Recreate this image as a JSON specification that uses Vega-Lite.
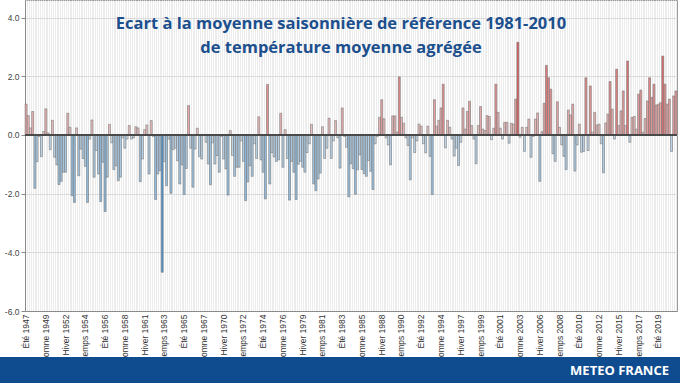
{
  "$schema": "https://vega.github.io/schema/vega-lite/v6.json",
  "width": 652,
  "height": 311,
  "autosize": {"type": "none"},
  "padding": {"left": 25, "top": 0, "right": 3, "bottom": 72},
  "background": "#ffffff",
  "title": {
    "text": ["Ecart à la moyenne saisonnière de référence 1981-2010", "de température moyenne agrégée"],
    "font": "Open Sans",
    "fontSize": 16.5,
    "fontWeight": 700,
    "color": "#1c4f8d",
    "anchor": "middle",
    "orient": "top",
    "offset": 0,
    "baseline": "alphabetic",
    "lineHeight": 24,
    "dy": 69,
    "dx": -10
  },
  "config": {
    "view": {"fill": "#ececec", "stroke": "#9a9a9a", "strokeWidth": 1}
  },
  "datasets": {
    "footer": [{"marque": "METEO FRANCE"}]
  },
  "data": {"values": [
    {"saison": "Été 1947", "ecart": 1.05}, {"saison": "Automne 1947", "ecart": 0.66}, {"saison": "Hiver 1948", "ecart": 0.24}, {"saison": "Printemps 1948", "ecart": 0.8},
    {"saison": "Été 1948", "ecart": -1.82}, {"saison": "Automne 1948", "ecart": -0.91}, {"saison": "Hiver 1949", "ecart": -0.05}, {"saison": "Printemps 1949", "ecart": -0.74},
    {"saison": "Été 1949", "ecart": 0.12}, {"saison": "Automne 1949", "ecart": 0.89}, {"saison": "Hiver 1950", "ecart": 0.07}, {"saison": "Printemps 1950", "ecart": -0.5},
    {"saison": "Été 1950", "ecart": 0.5}, {"saison": "Automne 1950", "ecart": -0.76}, {"saison": "Hiver 1951", "ecart": -1.02}, {"saison": "Printemps 1951", "ecart": -1.69},
    {"saison": "Été 1951", "ecart": -1.58}, {"saison": "Automne 1951", "ecart": -1.27}, {"saison": "Hiver 1952", "ecart": -1.27}, {"saison": "Printemps 1952", "ecart": 0.74},
    {"saison": "Été 1952", "ecart": 0.26}, {"saison": "Automne 1952", "ecart": -2.07}, {"saison": "Hiver 1953", "ecart": -2.3}, {"saison": "Printemps 1953", "ecart": 0.24},
    {"saison": "Été 1953", "ecart": -1.39}, {"saison": "Automne 1953", "ecart": -0.48}, {"saison": "Hiver 1954", "ecart": -0.8}, {"saison": "Printemps 1954", "ecart": -1.07},
    {"saison": "Été 1954", "ecart": -2.3}, {"saison": "Automne 1954", "ecart": -0.14}, {"saison": "Hiver 1955", "ecart": 0.51}, {"saison": "Printemps 1955", "ecart": -1.44},
    {"saison": "Été 1955", "ecart": -0.53}, {"saison": "Automne 1955", "ecart": -1.33}, {"saison": "Hiver 1956", "ecart": -2.27}, {"saison": "Printemps 1956", "ecart": -0.93},
    {"saison": "Été 1956", "ecart": -2.61}, {"saison": "Automne 1956", "ecart": -1.44}, {"saison": "Hiver 1957", "ecart": 0.36}, {"saison": "Printemps 1957", "ecart": -0.27},
    {"saison": "Été 1957", "ecart": -1.18}, {"saison": "Automne 1957", "ecart": -1.05}, {"saison": "Hiver 1958", "ecart": -1.56}, {"saison": "Printemps 1958", "ecart": -1.44},
    {"saison": "Été 1958", "ecart": -0.1}, {"saison": "Automne 1958", "ecart": -0.45}, {"saison": "Hiver 1959", "ecart": -0.14}, {"saison": "Printemps 1959", "ecart": 0.32},
    {"saison": "Été 1959", "ecart": -0.14}, {"saison": "Automne 1959", "ecart": -0.1}, {"saison": "Hiver 1960", "ecart": 0.28}, {"saison": "Printemps 1960", "ecart": 0.24},
    {"saison": "Été 1960", "ecart": -1.59}, {"saison": "Automne 1960", "ecart": -0.82}, {"saison": "Hiver 1961", "ecart": 0.18}, {"saison": "Printemps 1961", "ecart": 0.34},
    {"saison": "Été 1961", "ecart": -1.33}, {"saison": "Automne 1961", "ecart": 0.49}, {"saison": "Hiver 1962", "ecart": -0.05}, {"saison": "Printemps 1962", "ecart": -2.2},
    {"saison": "Été 1962", "ecart": -1.33}, {"saison": "Automne 1962", "ecart": -1.22}, {"saison": "Hiver 1963", "ecart": -4.68}, {"saison": "Printemps 1963", "ecart": -0.91},
    {"saison": "Été 1963", "ecart": -1.73}, {"saison": "Automne 1963", "ecart": -0.14}, {"saison": "Hiver 1964", "ecart": -1.99}, {"saison": "Printemps 1964", "ecart": -0.5},
    {"saison": "Été 1964", "ecart": -0.45}, {"saison": "Automne 1964", "ecart": -0.88}, {"saison": "Hiver 1965", "ecart": -1.67}, {"saison": "Printemps 1965", "ecart": -1.02},
    {"saison": "Été 1965", "ecart": -2.03}, {"saison": "Automne 1965", "ecart": -1.14}, {"saison": "Hiver 1966", "ecart": 1.0}, {"saison": "Printemps 1966", "ecart": -0.45},
    {"saison": "Été 1966", "ecart": -1.78}, {"saison": "Automne 1966", "ecart": -0.48}, {"saison": "Hiver 1967", "ecart": 0.23}, {"saison": "Printemps 1967", "ecart": -0.74},
    {"saison": "Été 1967", "ecart": -0.82}, {"saison": "Automne 1967", "ecart": -0.02}, {"saison": "Hiver 1968", "ecart": -0.25}, {"saison": "Printemps 1968", "ecart": -0.99},
    {"saison": "Été 1968", "ecart": -1.7}, {"saison": "Automne 1968", "ecart": -0.27}, {"saison": "Hiver 1969", "ecart": -0.99}, {"saison": "Printemps 1969", "ecart": -0.7},
    {"saison": "Été 1969", "ecart": -1.27}, {"saison": "Automne 1969", "ecart": -0.05}, {"saison": "Hiver 1970", "ecart": -0.82}, {"saison": "Printemps 1970", "ecart": -1.16},
    {"saison": "Été 1970", "ecart": -2.05}, {"saison": "Automne 1970", "ecart": 0.15}, {"saison": "Hiver 1971", "ecart": -0.7}, {"saison": "Printemps 1971", "ecart": -1.41},
    {"saison": "Été 1971", "ecart": -1.1}, {"saison": "Automne 1971", "ecart": -1.1}, {"saison": "Hiver 1972", "ecart": -0.2}, {"saison": "Printemps 1972", "ecart": -0.9},
    {"saison": "Été 1972", "ecart": -2.24}, {"saison": "Automne 1972", "ecart": -1.6}, {"saison": "Hiver 1973", "ecart": -1.05}, {"saison": "Printemps 1973", "ecart": -1.41},
    {"saison": "Été 1973", "ecart": -0.3}, {"saison": "Automne 1973", "ecart": -0.8}, {"saison": "Hiver 1974", "ecart": 0.62}, {"saison": "Printemps 1974", "ecart": -0.85},
    {"saison": "Été 1974", "ecart": -1.27}, {"saison": "Automne 1974", "ecart": -2.18}, {"saison": "Hiver 1975", "ecart": 1.72}, {"saison": "Printemps 1975", "ecart": -1.67},
    {"saison": "Été 1975", "ecart": -0.6}, {"saison": "Automne 1975", "ecart": -0.75}, {"saison": "Hiver 1976", "ecart": -0.9}, {"saison": "Printemps 1976", "ecart": -0.85},
    {"saison": "Été 1976", "ecart": 0.74}, {"saison": "Automne 1976", "ecart": -1.1}, {"saison": "Hiver 1977", "ecart": 0.18}, {"saison": "Printemps 1977", "ecart": -0.8},
    {"saison": "Été 1977", "ecart": -2.22}, {"saison": "Automne 1977", "ecart": -0.9}, {"saison": "Hiver 1978", "ecart": -1.27}, {"saison": "Printemps 1978", "ecart": -2.2},
    {"saison": "Été 1978", "ecart": -1.0}, {"saison": "Automne 1978", "ecart": -0.9}, {"saison": "Hiver 1979", "ecart": -1.1}, {"saison": "Printemps 1979", "ecart": -1.27},
    {"saison": "Été 1979", "ecart": -0.6}, {"saison": "Automne 1979", "ecart": -0.3}, {"saison": "Hiver 1980", "ecart": 0.36}, {"saison": "Printemps 1980", "ecart": -1.67},
    {"saison": "Été 1980", "ecart": -1.9}, {"saison": "Automne 1980", "ecart": -1.5}, {"saison": "Hiver 1981", "ecart": -1.3}, {"saison": "Printemps 1981", "ecart": 0.28},
    {"saison": "Été 1981", "ecart": -0.8}, {"saison": "Automne 1981", "ecart": -0.45}, {"saison": "Hiver 1982", "ecart": 0.57}, {"saison": "Printemps 1982", "ecart": -0.8},
    {"saison": "Été 1982", "ecart": -0.2}, {"saison": "Automne 1982", "ecart": 0.49}, {"saison": "Hiver 1983", "ecart": -0.1}, {"saison": "Printemps 1983", "ecart": -1.13},
    {"saison": "Été 1983", "ecart": 0.92}, {"saison": "Automne 1983", "ecart": -0.05}, {"saison": "Hiver 1984", "ecart": -0.42}, {"saison": "Printemps 1984", "ecart": -2.11},
    {"saison": "Été 1984", "ecart": -0.98}, {"saison": "Automne 1984", "ecart": -1.15}, {"saison": "Hiver 1985", "ecart": -2.02}, {"saison": "Printemps 1985", "ecart": -1.19},
    {"saison": "Été 1985", "ecart": -0.68}, {"saison": "Automne 1985", "ecart": -1.18}, {"saison": "Hiver 1986", "ecart": -1.32}, {"saison": "Printemps 1986", "ecart": -1.41},
    {"saison": "Été 1986", "ecart": -0.87}, {"saison": "Automne 1986", "ecart": -1.24}, {"saison": "Hiver 1987", "ecart": -1.86}, {"saison": "Printemps 1987", "ecart": -0.3},
    {"saison": "Été 1987", "ecart": -0.05}, {"saison": "Automne 1987", "ecart": 0.6}, {"saison": "Hiver 1988", "ecart": 1.2}, {"saison": "Printemps 1988", "ecart": 0.55},
    {"saison": "Été 1988", "ecart": -0.1}, {"saison": "Automne 1988", "ecart": -0.34}, {"saison": "Hiver 1989", "ecart": -1.02}, {"saison": "Printemps 1989", "ecart": 0.65},
    {"saison": "Été 1989", "ecart": 0.65}, {"saison": "Automne 1989", "ecart": 0.1}, {"saison": "Hiver 1990", "ecart": 1.98}, {"saison": "Printemps 1990", "ecart": 0.6},
    {"saison": "Été 1990", "ecart": 0.4}, {"saison": "Automne 1990", "ecart": -0.1}, {"saison": "Hiver 1991", "ecart": -0.36}, {"saison": "Printemps 1991", "ecart": -1.53},
    {"saison": "Été 1991", "ecart": -0.1}, {"saison": "Automne 1991", "ecart": -0.6}, {"saison": "Hiver 1992", "ecart": -0.2}, {"saison": "Printemps 1992", "ecart": 0.37},
    {"saison": "Été 1992", "ecart": 0.3}, {"saison": "Automne 1992", "ecart": -0.3}, {"saison": "Hiver 1993", "ecart": -0.61}, {"saison": "Printemps 1993", "ecart": 0.3},
    {"saison": "Été 1993", "ecart": -0.73}, {"saison": "Automne 1993", "ecart": -2.03}, {"saison": "Hiver 1994", "ecart": 1.2}, {"saison": "Printemps 1994", "ecart": 0.3},
    {"saison": "Été 1994", "ecart": 0.5}, {"saison": "Automne 1994", "ecart": 0.92}, {"saison": "Hiver 1995", "ecart": 1.73}, {"saison": "Printemps 1995", "ecart": -0.44},
    {"saison": "Été 1995", "ecart": 0.5}, {"saison": "Automne 1995", "ecart": 0.26}, {"saison": "Hiver 1996", "ecart": -0.14}, {"saison": "Printemps 1996", "ecart": -0.72},
    {"saison": "Été 1996", "ecart": -0.45}, {"saison": "Automne 1996", "ecart": -1.04}, {"saison": "Hiver 1997", "ecart": -0.25}, {"saison": "Printemps 1997", "ecart": 0.92},
    {"saison": "Été 1997", "ecart": 0.2}, {"saison": "Automne 1997", "ecart": 0.8}, {"saison": "Hiver 1998", "ecart": 1.15}, {"saison": "Printemps 1998", "ecart": 0.32},
    {"saison": "Été 1998", "ecart": -0.14}, {"saison": "Automne 1998", "ecart": -0.98}, {"saison": "Hiver 1999", "ecart": 0.32}, {"saison": "Printemps 1999", "ecart": 0.97},
    {"saison": "Été 1999", "ecart": 0.2}, {"saison": "Automne 1999", "ecart": 0.15}, {"saison": "Hiver 2000", "ecart": 0.66}, {"saison": "Printemps 2000", "ecart": 0.63},
    {"saison": "Été 2000", "ecart": -0.16}, {"saison": "Automne 2000", "ecart": 0.23}, {"saison": "Hiver 2001", "ecart": 1.73}, {"saison": "Printemps 2001", "ecart": 0.77},
    {"saison": "Été 2001", "ecart": 0.23}, {"saison": "Automne 2001", "ecart": -0.14}, {"saison": "Hiver 2002", "ecart": 0.43}, {"saison": "Printemps 2002", "ecart": 0.43},
    {"saison": "Été 2002", "ecart": -0.28}, {"saison": "Automne 2002", "ecart": 0.4}, {"saison": "Hiver 2003", "ecart": 0.37}, {"saison": "Printemps 2003", "ecart": 1.22},
    {"saison": "Été 2003", "ecart": 3.16}, {"saison": "Automne 2003", "ecart": -0.08}, {"saison": "Hiver 2004", "ecart": 0.26}, {"saison": "Printemps 2004", "ecart": -0.56},
    {"saison": "Été 2004", "ecart": 0.26}, {"saison": "Automne 2004", "ecart": 0.54}, {"saison": "Hiver 2005", "ecart": -0.76}, {"saison": "Printemps 2005", "ecart": -0.05},
    {"saison": "Été 2005", "ecart": 0.54}, {"saison": "Automne 2005", "ecart": 0.75}, {"saison": "Hiver 2006", "ecart": -1.58}, {"saison": "Printemps 2006", "ecart": 0.11},
    {"saison": "Été 2006", "ecart": 1.08}, {"saison": "Automne 2006", "ecart": 2.37}, {"saison": "Hiver 2007", "ecart": 1.95}, {"saison": "Printemps 2007", "ecart": 1.56},
    {"saison": "Été 2007", "ecart": -0.64}, {"saison": "Automne 2007", "ecart": -0.9}, {"saison": "Hiver 2008", "ecart": 1.13}, {"saison": "Printemps 2008", "ecart": 0.26},
    {"saison": "Été 2008", "ecart": -0.34}, {"saison": "Automne 2008", "ecart": -0.73}, {"saison": "Hiver 2009", "ecart": -1.18}, {"saison": "Printemps 2009", "ecart": 0.85},
    {"saison": "Été 2009", "ecart": 0.68}, {"saison": "Automne 2009", "ecart": 1.05}, {"saison": "Hiver 2010", "ecart": -1.23}, {"saison": "Printemps 2010", "ecart": -0.34},
    {"saison": "Été 2010", "ecart": 0.37}, {"saison": "Automne 2010", "ecart": -0.59}, {"saison": "Hiver 2011", "ecart": -0.56}, {"saison": "Printemps 2011", "ecart": 1.95},
    {"saison": "Été 2011", "ecart": -0.53}, {"saison": "Automne 2011", "ecart": 1.67}, {"saison": "Hiver 2012", "ecart": 0.1}, {"saison": "Printemps 2012", "ecart": 0.77},
    {"saison": "Été 2012", "ecart": 0.34}, {"saison": "Automne 2012", "ecart": 0.37}, {"saison": "Hiver 2013", "ecart": -0.3}, {"saison": "Printemps 2013", "ecart": -1.29},
    {"saison": "Été 2013", "ecart": 0.41}, {"saison": "Automne 2013", "ecart": 0.71}, {"saison": "Hiver 2014", "ecart": 1.82}, {"saison": "Printemps 2014", "ecart": 0.88},
    {"saison": "Été 2014", "ecart": -0.14}, {"saison": "Automne 2014", "ecart": 2.24}, {"saison": "Hiver 2015", "ecart": 0.32}, {"saison": "Printemps 2015", "ecart": 0.82},
    {"saison": "Été 2015", "ecart": 1.5}, {"saison": "Automne 2015", "ecart": 0.32}, {"saison": "Hiver 2016", "ecart": 2.52}, {"saison": "Printemps 2016", "ecart": -0.25},
    {"saison": "Été 2016", "ecart": 0.6}, {"saison": "Automne 2016", "ecart": 0.63}, {"saison": "Hiver 2017", "ecart": 0.2}, {"saison": "Printemps 2017", "ecart": 1.39},
    {"saison": "Été 2017", "ecart": 1.53}, {"saison": "Automne 2017", "ecart": 0.09}, {"saison": "Hiver 2018", "ecart": 0.56}, {"saison": "Printemps 2018", "ecart": 1.16},
    {"saison": "Été 2018", "ecart": 1.95}, {"saison": "Automne 2018", "ecart": 1.28}, {"saison": "Hiver 2019", "ecart": 1.73}, {"saison": "Printemps 2019", "ecart": 1.02},
    {"saison": "Été 2019", "ecart": 1.05}, {"saison": "Automne 2019", "ecart": 1.1}, {"saison": "Hiver 2020", "ecart": 2.69}, {"saison": "Printemps 2020", "ecart": 1.73},
    {"saison": "Été 2020", "ecart": 1.05}, {"saison": "Automne 2020", "ecart": 1.22}, {"saison": "Hiver 2021", "ecart": -0.56}, {"saison": "Printemps 2021", "ecart": 1.33},
    {"saison": "Été 2021", "ecart": 1.5}
  ]},
  "layer": [
    {
      "mark": {"type": "bar", "stroke": "#737373", "strokeWidth": 0.6},
      "encoding": {
        "x": {
          "field": "saison", "type": "nominal", "sort": null,
          "scale": {"paddingInner": 0.12, "paddingOuter": 0.05},
          "axis": {
            "title": null,
            "labelExpr": "indexof(['Été 1947','Automne 1949','Hiver 1952','Printemps 1954','Été 1956','Automne 1958','Hiver 1961','Printemps 1963','Été 1965','Automne 1967','Hiver 1970','Printemps 1972','Été 1974','Automne 1976','Hiver 1979','Printemps 1981','Été 1983','Automne 1985','Hiver 1988','Printemps 1990','Été 1992','Automne 1994','Hiver 1997','Printemps 1999','Été 2001','Automne 2003','Hiver 2006','Printemps 2008','Été 2010','Automne 2012','Hiver 2015','Printemps 2017','Été 2019'], datum.value) >= 0 ? datum.value : ''",
            "labelAngle": 270,
            "labelAlign": "right",
            "labelBaseline": "middle",
            "labelFont": "Liberation Sans",
            "labelFontSize": 8.5,
            "labelColor": "#333333",
            "labelPadding": 3,
            "labelOverlap": false,
            "labelBound": false,
            "ticks": false,
            "grid": true,
            "gridColor": "#ffffff",
            "gridWidth": 1,
            "gridOpacity": 1,
            "domainColor": "#8a8a8a"
          }
        },
        "y": {
          "field": "ecart", "type": "quantitative",
          "scale": {"domain": [-6, 4.6], "nice": false},
          "axis": {
            "title": null,
            "values": [-6, -4, -2, 0, 2, 4],
            "labelExpr": "datum.value < 0 ? '-' + format(-datum.value, '.1f') : format(datum.value, '.1f')",
            "labelFont": "Liberation Sans",
            "labelFontSize": 8.5,
            "labelColor": "#444444",
            "labelPadding": 2,
            "tickColor": "#8a8a8a",
            "tickSize": 4,
            "domainColor": "#8a8a8a",
            "grid": true,
            "gridColor": "#dadada",
            "gridWidth": 1
          }
        },
        "color": {
          "field": "ecart", "type": "quantitative", "legend": null,
          "scale": {"domain": [-4.7, -0.01, 0.01, 3.2], "range": ["#4a97d6", "#d2e4f2", "#f3d0d0", "#e05a5a"], "interpolate": "rgb"}
        }
      }
    },
    {
      "mark": {"type": "rule", "color": "#4a4a4a", "strokeWidth": 1.2},
      "encoding": {
        "y": {"datum": 0, "type": "quantitative", "scale": {"domain": [-6, 4.6], "nice": false}, "axis": null}
      }
    },
    {
      "data": {"name": "footer"},
      "mark": {"type": "rect", "color": "#0f4c8f", "clip": false},
      "encoding": {
        "x": {"datum": 0, "type": "quantitative", "scale": {"domain": [25, 677]}, "axis": null},
        "x2": {"datum": 680},
        "y": {"datum": 357, "type": "quantitative", "scale": {"domain": [311, 0]}, "axis": null},
        "y2": {"datum": 383}
      }
    },
    {
      "data": {"name": "footer"},
      "mark": {"type": "text", "color": "#ffffff", "font": "Open Sans", "fontWeight": 700, "fontSize": 13, "align": "right", "baseline": "alphabetic", "clip": false},
      "encoding": {
        "text": {"field": "marque"},
        "x": {"datum": 669, "type": "quantitative", "scale": {"domain": [25, 677]}, "axis": null},
        "y": {"datum": 375, "type": "quantitative", "scale": {"domain": [311, 0]}, "axis": null}
      }
    }
  ],
  "resolve": {"scale": {"x": "independent", "y": "independent"}, "axis": {"x": "independent", "y": "independent"}}
}
